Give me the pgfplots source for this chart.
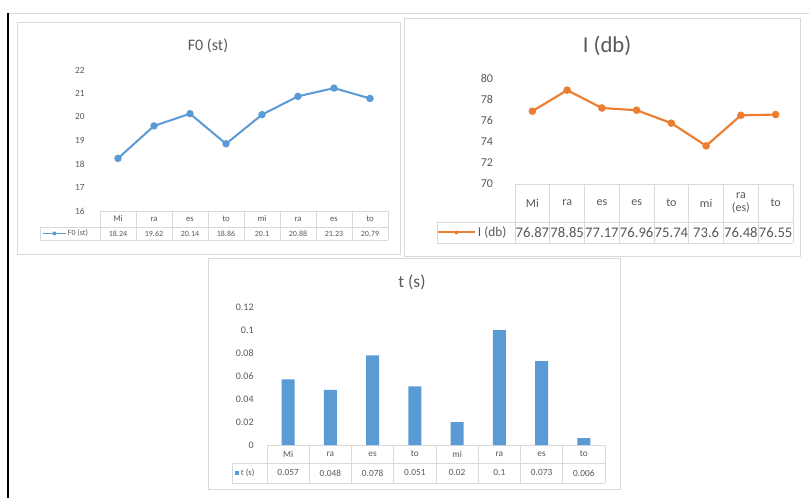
\documentclass[border=0pt]{standalone}
\usepackage{pgfplots}
\pgfplotsset{compat=1.18}
\usepackage{fontspec}
\setmainfont{Carlito}
\definecolor{exblue}{HTML}{5B9BD5}
\definecolor{exorange}{HTML}{ED7D31}
\definecolor{txt}{HTML}{595959}
\definecolor{grd}{HTML}{D9D9D9}
\newcommand{\fs}[1]{\fontsize{#1}{#1}\selectfont}
\begin{document}
\begin{tikzpicture}
\begin{scope}[x=0.75pt,y=-0.75pt]
\fill[white] (0,0) rectangle (809,498);
\draw[black,line width=1.6pt] (8,13) -- (8,498);
\draw[grd,line width=0.6pt] (9,13) -- (809,13);
\draw[grd,line width=0.6pt] (17,22) rectangle (400,254);
\draw[grd,line width=0.6pt] (404,18) rectangle (800,256);
\draw[grd,line width=0.6pt] (208,258) rectangle (620,489);
% titles
\node[text=txt] at (208,46) {\fs{12}F0 (st)};
\node[text=txt] at (607,46) {\fs{17}I (db)};
\node[text=txt] at (412,282) {\fs{13}t (s)};
% ---------- F0 table ----------
\draw[grd,line width=0.5pt] (100,211) -- (388,211);
\draw[grd,line width=0.5pt] (40,227) -- (388,227);
\draw[grd,line width=0.5pt] (40,240) -- (388,240);
\draw[grd,line width=0.5pt] (40,227) -- (40,240);
\foreach \k in {0,...,8}{\draw[grd,line width=0.5pt] ({100+36*\k},211) -- ({100+36*\k},240);}
\foreach \c [count=\i from 0] in {Mi,ra,es,to,mi,ra,es,to}{\node[text=txt] at ({118+36*\i},219) {\fs{6.5}\c};}
\foreach \v [count=\i from 0] in {18.24,19.62,20.14,18.86,20.1,20.88,21.23,20.79}{\node[text=txt] at ({118+36*\i},233.5) {\fs{6}\v};}
\draw[exblue,line width=1.3pt] (43,233.5) -- (66,233.5);
\fill[exblue] (54.5,233.5) circle (2);
\node[text=txt,anchor=west,inner sep=0.5pt] at (67,233.5) {\fs{6}F0 (st)};
% ---------- I table ----------
\draw[grd,line width=0.5pt] (515,184) -- (793,184);
\draw[grd,line width=0.5pt] (437,222) -- (793,222);
\draw[grd,line width=0.5pt] (437,243) -- (793,243);
\draw[grd,line width=0.5pt] (437,222) -- (437,243);
\foreach \k in {0,...,8}{\draw[grd,line width=0.5pt] ({515+34.75*\k},184) -- ({515+34.75*\k},243);}
\foreach \c [count=\i from 0] in {Mi,ra,es,es,to,mi,{\shortstack{ra\\(es)}},to}{\node[text=txt] at ({532.4+34.75*\i},203) {\fs{9}\c};}
\foreach \v [count=\i from 0] in {76.87,78.85,77.17,76.96,75.74,73.6,76.48,76.55}{\node[text=txt,inner sep=0pt] at ({532.4+34.75*\i},232.5) {\fs{11}\v};}
\draw[exorange,line width=1.5pt] (438,232.5) -- (475,232.5);
\fill[exorange] (456.5,232.5) circle (2);
\node[text=txt,anchor=west,inner sep=0.5pt] at (477,232.5) {\fs{10}I (db)};
% ---------- t table ----------
\draw[grd,line width=0.5pt] (267,445) -- (605,445);
\draw[grd,line width=0.5pt] (232,463) -- (605,463);
\draw[grd,line width=0.5pt] (232,483) -- (605,483);
\draw[grd,line width=0.5pt] (232,463) -- (232,483);
\foreach \k in {0,...,8}{\draw[grd,line width=0.5pt] ({267+42.25*\k},445) -- ({267+42.25*\k},483);}
\foreach \c [count=\i from 0] in {Mi,ra,es,to,mi,ra,es,to}{\node[text=txt] at ({288.1+42.25*\i},454) {\fs{7}\c};}
\foreach \v [count=\i from 0] in {0.057,0.048,0.078,0.051,0.02,0.1,0.073,0.006}{\node[text=txt] at ({288.1+42.25*\i},473) {\fs{7}\v};}
\fill[exblue] (234.5,471) rectangle (238.5,475);
\node[text=txt,anchor=west,inner sep=0.5pt] at (240,473) {\fs{6.5}t (s)};
\end{scope}
% ---------- F0 axis ----------
\begin{axis}[at={(75pt,-158.25pt)}, anchor=south west, scale only axis,
  width=216pt, height=105.75pt, xmin=-0.5, xmax=7.5, ymin=16, ymax=22,
  ytick={16,17,...,22}, xtick=\empty, axis line style={draw=none},
  major tick length=0pt, clip=false,
  /pgf/number format/assume math mode=true,
  yticklabel style={font=\fs{7}, text=txt, xshift=-8pt}]
\addplot[exblue, line width=1.5pt, mark=*, mark size=2pt] coordinates {
(0,18.24) (1,19.62) (2,20.14) (3,18.86) (4,20.1) (5,20.88) (6,21.23) (7,20.79)};
\end{axis}
% ---------- I axis ----------
\begin{axis}[at={(386.25pt,-138pt)}, anchor=south west, scale only axis,
  width=208.5pt, height=79.5pt, xmin=-0.5, xmax=7.5, ymin=70, ymax=80,
  ytick={70,72,...,80}, xtick=\empty, axis line style={draw=none},
  major tick length=0pt, clip=false,
  /pgf/number format/assume math mode=true,
  yticklabel style={font=\fs{9}, text=txt, xshift=-13pt}]
\addplot[exorange, line width=1.6pt, mark=*, mark size=2pt] coordinates {
(0,76.87) (1,78.85) (2,77.17) (3,76.96) (4,75.74) (5,73.6) (6,76.48) (7,76.55)};
\end{axis}
% ---------- t axis ----------
\begin{axis}[at={(200.25pt,-333.75pt)}, anchor=south west, scale only axis,
  width=253.5pt, height=103.5pt, xmin=-0.5, xmax=7.5, ymin=0, ymax=0.12,
  ytick={0,0.02,0.04,0.06,0.08,0.1,0.12},
  yticklabels={0,0.02,0.04,0.06,0.08,0.1,0.12},
  xtick=\empty, axis line style={draw=none},
  major tick length=0pt, clip=false,
  yticklabel style={font=\fs{7.5}, text=txt, xshift=-6.5pt}]
\addplot[ybar, bar width=9.75pt, fill=exblue, draw=none] coordinates {
(0,0.057) (1,0.048) (2,0.078) (3,0.051) (4,0.02) (5,0.1) (6,0.073) (7,0.006)};
\end{axis}
\pgfresetboundingbox
\useasboundingbox (0,0) rectangle (606.75pt,-373.5pt);
\end{tikzpicture}
\end{document}
